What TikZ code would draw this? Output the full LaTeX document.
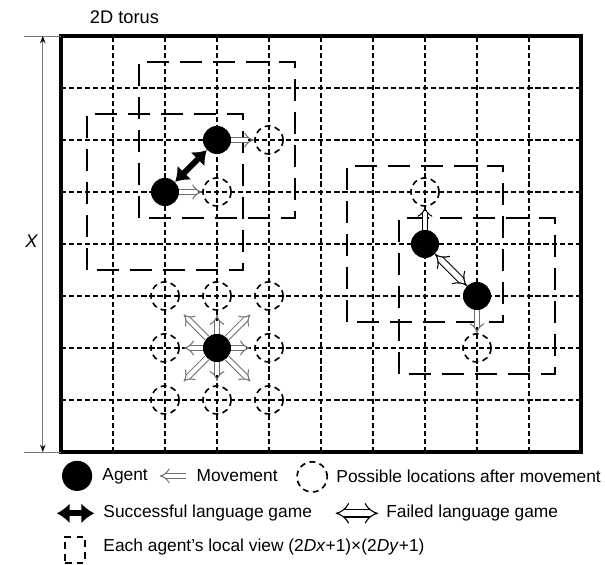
\documentclass[tikz,border=0pt]{standalone}
\usepackage{fontspec}
\setmainfont{Liberation Sans}
\usepackage{tikz}
\usetikzlibrary{arrows.meta, positioning}
\definecolor{movegray}{RGB}{110, 110, 110}
\definecolor{dimgray}{RGB}{120, 120, 120}

\begin{document}
\begin{tikzpicture}[x=1cm, y=1cm,
  agent/.style={circle, fill=black, inner sep=0pt, minimum size=0.54cm},
  loc/.style={circle, draw=black, line width=0.9pt, dash pattern=on 3.2pt off 2.4pt,
              inner sep=0pt, minimum size=0.54cm},
  gridline/.style={line width=0.8pt, dash pattern=on 2.8pt off 1.6pt},
  view/.style={line width=1.1pt, dash pattern=on 12pt off 6pt},
  succ/.style={line width=3.2pt, {Latex[length=7pt,width=11pt]}-{Latex[length=7pt,width=11pt]}},
  fail/.style={draw=black, double=white, line width=0.6pt, double distance=3pt,
               {Implies}-{Implies}},
  move/.style={draw=movegray, double=white, line width=0.55pt, double distance=2.3pt,
               -{Implies}},
  legtext/.style={anchor=west, inner sep=0pt, font=\fontsize{9.5}{11}\selectfont}]
  \useasboundingbox (-1.173,-2.173) rectangle (10.462,8.692);

  % torus grid and the local views
  \draw[gridline] (0,0) grid (10,8);
  \draw[view] (1.5,4.5) rectangle (4.5,7.5);
  \draw[view] (0.5,3.5) rectangle (3.5,6.5);
  \draw[view] (5.5,2.5) rectangle (8.5,5.5);
  \draw[view] (6.5,1.5) rectangle (9.5,4.5);
  \draw[line width=1.9pt] (0,0) rectangle (10,8);
  \draw[line width=0.6pt] (-0.03,0) -- (-0.03,8);

  \node[font=\fontsize{10}{12}\selectfont] (title) at (1.22,8.37) {2D torus};

  % side length X
  \coordinate (xtop) at (-0.35,8);
  \coordinate (xbot) at (-0.35,0);
  \draw[dimgray, line width=0.5pt] (-0.71,8) -- (0,8);
  \draw[dimgray, line width=0.5pt] (-0.71,0) -- (0,0);
  \draw[dimgray, line width=0.5pt, {Stealth[length=4pt,width=3pt,black]}-{Stealth[length=4pt,width=3pt,black]}] (xbot) -- (xtop);
  \node[font=\fontsize{10}{12}\selectfont] (xlab) at (-0.56,4.06) {\textit{X}};

  % agents
  \node[agent] (a1) at (3,6) {};
  \node[agent] (a2) at (2,5) {};
  \node[agent] (a3) at (7,4) {};
  \node[agent] (a4) at (8,3) {};
  \node[agent] (a5) at (3,2) {};

  % where they may go
  \node[loc] (m1) at (4,6) {};
  \node[loc] (m2) at (3,5) {};
  \node[loc] (m3) at (7,5) {};
  \node[loc] (m4) at (8,2) {};
  \foreach \dx/\dy/\n in {-1/1/nw, 0/1/n, 1/1/ne, -1/0/w, 1/0/e, -1/-1/sw, 0/-1/s, 1/-1/se}
    \node[loc] (c\n) at ({3+\dx},{2+\dy}) {};

  \draw[move] (a1) -- (m1);  \draw[move] (a2) -- (m2);
  \draw[move, draw=black] (a3) -- (m3);  \draw[move] (a4) -- (m4);
  \foreach \n in {n,e,s,w}
    \draw[move, shorten >=0.08cm] (a5) -- (c\n);
  \foreach \n in {ne,nw,se,sw}
    \draw[move, shorten >=0.22cm] (a5) -- (c\n);

  \draw[succ] (a2) -- (a1);
  \draw[fail] (a3) -- (a4);

  % legend
  \node[agent, minimum size=0.58cm] (lagent) at (0.31,-0.46) {};
  \node[legtext] (tagent) at (0.79,-0.46) {Agent};
  \coordinate (lmove1) at (2.40,-0.46);
  \coordinate (lmove2) at (1.90,-0.46);
  \draw[move] (lmove1) -- (lmove2);
  \node[legtext] (tmove) at (2.60,-0.46) {Movement};
  \node[loc, minimum size=0.58cm] (lloc) at (4.83,-0.48) {};
  \node[legtext] (tloc) at (5.29,-0.46) {Possible locations after movement};

  \coordinate (lsucc1) at (-0.08,-1.18);
  \coordinate (lsucc2) at (0.64,-1.18);
  \draw[succ] (lsucc1) -- (lsucc2);
  \node[legtext] (tsucc) at (0.81,-1.17) {Successful language game};
  \coordinate (lfail1) at (5.28,-1.18);
  \coordinate (lfail2) at (6.10,-1.18);
  \draw[fail, double distance=3.4pt] (lfail1) -- (lfail2);
  \node[legtext] (tfail) at (6.25,-1.17) {Failed language game};

  \node[draw, line width=1pt, dash pattern=on 3.5pt off 3pt, inner sep=0pt,
        minimum width=0.38cm, minimum height=0.5cm] (lview) at (0.27,-1.88) {};
  \node[legtext] (tview) at (0.81,-1.83) {Each agent's local view (2\textit{Dx}+1)×(2\textit{Dy}+1)};
\end{tikzpicture}
\end{document}
